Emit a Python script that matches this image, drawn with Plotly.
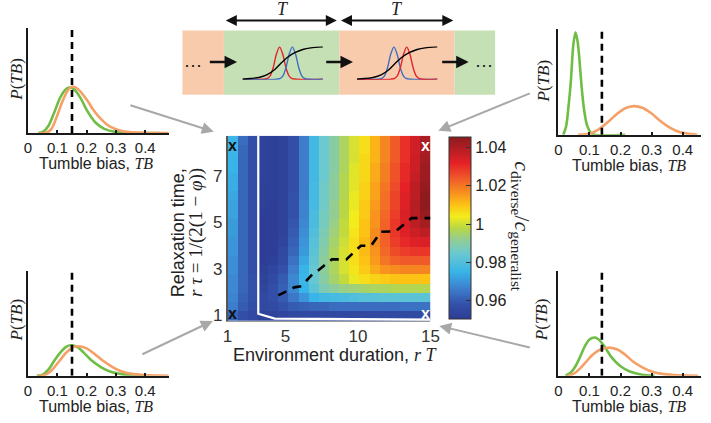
import numpy as np
import plotly.graph_objects as go

W, H = 711, 423
SANS = "Liberation Sans, Arial, sans-serif"
SERIF = "Liberation Serif, Times New Roman, serif"

# ---------------- data ----------------
env_duration = [1.35, 2.05, 2.75, 3.45, 4.15, 4.85, 5.55, 6.25, 6.95, 7.65,
                8.35, 9.05, 9.75, 10.45, 11.15, 11.85, 12.55, 13.25, 13.95, 14.65]
relax_time = [0.95, 1.35, 1.75, 2.15, 2.55, 2.95, 3.35, 3.75, 4.15, 4.55,
              4.95, 5.35, 5.75, 6.15, 6.55, 6.95, 7.35, 7.75, 8.15, 8.55]
# c_diverse / c_generalist, one list per environment duration (bottom -> top in relaxation time)
ratio_by_column = [
    [0.962, 0.966, 0.967, 0.968, 0.968, 0.969, 0.969, 0.970, 0.970, 0.971, 0.971, 0.972, 0.972, 0.973, 0.974, 0.974, 0.975, 0.975, 0.976, 0.976],
    [0.957, 0.960, 0.961, 0.962, 0.962, 0.962, 0.962, 0.962, 0.962, 0.962, 0.962, 0.962, 0.962, 0.962, 0.962, 0.962, 0.962, 0.962, 0.962, 0.963],
    [0.955, 0.957, 0.958, 0.958, 0.958, 0.957, 0.957, 0.957, 0.957, 0.957, 0.957, 0.957, 0.957, 0.957, 0.957, 0.957, 0.957, 0.957, 0.957, 0.957],
    [0.953, 0.955, 0.955, 0.954, 0.953, 0.952, 0.951, 0.951, 0.951, 0.951, 0.951, 0.951, 0.952, 0.952, 0.952, 0.953, 0.953, 0.953, 0.953, 0.953],
    [0.953, 0.956, 0.957, 0.957, 0.956, 0.954, 0.952, 0.951, 0.951, 0.951, 0.951, 0.951, 0.951, 0.952, 0.952, 0.952, 0.952, 0.952, 0.952, 0.952],
    [0.954, 0.958, 0.960, 0.961, 0.960, 0.958, 0.956, 0.955, 0.954, 0.953, 0.953, 0.953, 0.953, 0.953, 0.953, 0.953, 0.953, 0.953, 0.953, 0.953],
    [0.955, 0.960, 0.965, 0.968, 0.968, 0.966, 0.964, 0.962, 0.961, 0.960, 0.959, 0.958, 0.958, 0.958, 0.957, 0.957, 0.957, 0.957, 0.957, 0.957],
    [0.955, 0.961, 0.970, 0.975, 0.976, 0.975, 0.973, 0.971, 0.970, 0.969, 0.968, 0.967, 0.967, 0.966, 0.966, 0.966, 0.966, 0.966, 0.966, 0.966],
    [0.955, 0.962, 0.975, 0.982, 0.984, 0.984, 0.983, 0.982, 0.981, 0.980, 0.979, 0.979, 0.978, 0.978, 0.978, 0.977, 0.977, 0.977, 0.977, 0.977],
    [0.955, 0.962, 0.977, 0.988, 0.990, 0.991, 0.991, 0.990, 0.989, 0.988, 0.987, 0.987, 0.986, 0.986, 0.986, 0.985, 0.985, 0.985, 0.985, 0.985],
    [0.955, 0.963, 0.978, 0.991, 0.995, 0.996, 0.996, 0.996, 0.995, 0.994, 0.993, 0.992, 0.992, 0.991, 0.991, 0.991, 0.990, 0.990, 0.990, 0.990],
    [0.955, 0.963, 0.979, 0.993, 0.999, 1.001, 1.001, 1.001, 1.000, 0.999, 0.999, 0.998, 0.998, 0.997, 0.997, 0.997, 0.996, 0.996, 0.996, 0.996],
    [0.955, 0.963, 0.980, 0.994, 1.003, 1.005, 1.006, 1.006, 1.006, 1.005, 1.004, 1.004, 1.003, 1.003, 1.002, 1.002, 1.002, 1.001, 1.001, 1.001],
    [0.955, 0.963, 0.981, 0.995, 1.006, 1.009, 1.010, 1.011, 1.011, 1.010, 1.010, 1.009, 1.009, 1.008, 1.008, 1.007, 1.007, 1.007, 1.006, 1.006],
    [0.955, 0.963, 0.981, 0.996, 1.008, 1.013, 1.015, 1.016, 1.017, 1.017, 1.016, 1.016, 1.015, 1.014, 1.014, 1.013, 1.013, 1.012, 1.012, 1.012],
    [0.955, 0.963, 0.982, 0.996, 1.009, 1.016, 1.020, 1.022, 1.023, 1.023, 1.023, 1.022, 1.021, 1.021, 1.020, 1.019, 1.019, 1.018, 1.018, 1.018],
    [0.955, 0.963, 0.982, 0.997, 1.010, 1.017, 1.023, 1.026, 1.028, 1.029, 1.029, 1.028, 1.027, 1.027, 1.026, 1.025, 1.025, 1.024, 1.024, 1.024],
    [0.956, 0.964, 0.982, 0.997, 1.010, 1.018, 1.024, 1.028, 1.031, 1.033, 1.034, 1.034, 1.033, 1.033, 1.032, 1.031, 1.031, 1.030, 1.030, 1.030],
    [0.956, 0.964, 0.982, 0.997, 1.010, 1.018, 1.024, 1.029, 1.033, 1.036, 1.038, 1.039, 1.039, 1.038, 1.038, 1.037, 1.036, 1.036, 1.035, 1.035],
    [0.956, 0.964, 0.982, 0.997, 1.010, 1.018, 1.024, 1.029, 1.034, 1.038, 1.042, 1.044, 1.045, 1.045, 1.044, 1.043, 1.043, 1.042, 1.041, 1.041],
]
ratio_min, ratio_max = 0.9503, 1.0457
cbar_ticks = [0.96, 0.98, 1.0, 1.02, 1.04]
cbar_labels = ["0.96", "0.98", "1", "1.02", "1.04"]
heat_xticks = [1, 5, 10, 15]
heat_yticks = [1, 3, 5, 7]

# optimal relaxation time (dashed staircase)
opt_T = [4.5, 5.6, 6.1, 6.9, 7.1, 8.2, 9.2, 10.2, 10.9, 11.6, 12.6, 13.7, 15.0]
opt_tau = [1.85, 2.2, 2.25, 2.8, 2.85, 3.41, 3.41, 4.0, 4.0, 4.6, 4.62, 5.19, 5.19]
# white boundary contour
bound_T = [3.12, 3.12, 4.26, 15.0]
bound_tau = [8.75, 1.06, 0.85, 0.81]
# corner markers
corner_T = [1.35, 1.35, 14.65, 14.65]
corner_tau = [8.33, 1.05, 8.33, 1.05]
corner_col = ["#111111", "#111111", "#ffffff", "#ffffff"]

# tumble-bias distributions (fraction of axis height)
tb_ticks = [0, 0.1, 0.2, 0.3, 0.4]
tb_labels = ["0", "0.1", "0.2", "0.3", "0.4"]
generalist_tb = [0.15, 0.14, 0.15, 0.14]  # TL, TR, BL, BR

tl_green_x = [0.035, 0.05, 0.07, 0.09, 0.11, 0.13, 0.14, 0.155, 0.18, 0.20, 0.23, 0.26, 0.30, 0.35, 0.45]
tl_green_y = [0.0, 0.01, 0.07, 0.2, 0.34, 0.42, 0.434, 0.42, 0.33, 0.22, 0.1, 0.04, 0.01, 0.0, 0.0]
tl_orange_x = [0.035, 0.06, 0.08, 0.10, 0.12, 0.14, 0.153, 0.17, 0.20, 0.223, 0.25, 0.28, 0.32, 0.37, 0.48]
tl_orange_y = [0.0, 0.0, 0.04, 0.17, 0.32, 0.42, 0.443, 0.42, 0.32, 0.22, 0.13, 0.06, 0.02, 0.005, 0.0]

tr_green_x = [0.016, 0.025, 0.033, 0.04, 0.048, 0.055, 0.062, 0.068, 0.074, 0.082, 0.092, 0.104, 0.116, 0.215]
tr_green_y = [0.0, 0.08, 0.28, 0.5, 0.85, 0.97, 0.88, 0.7, 0.48, 0.25, 0.09, 0.02, 0.0, 0.0]
tr_orange_x = [0.063, 0.10, 0.13, 0.165, 0.19, 0.215, 0.242, 0.27, 0.30, 0.326, 0.36, 0.39, 0.42, 0.447]
tr_orange_y = [0.0, 0.01, 0.05, 0.135, 0.2, 0.25, 0.27, 0.255, 0.2, 0.135, 0.065, 0.025, 0.008, 0.0]

bl_green_x = [0.03, 0.05, 0.07, 0.09, 0.11, 0.13, 0.146, 0.17, 0.19, 0.217, 0.25, 0.28, 0.32, 0.36, 0.40]
bl_green_y = [0.0, 0.01, 0.06, 0.145, 0.22, 0.275, 0.29, 0.27, 0.22, 0.145, 0.08, 0.04, 0.015, 0.004, 0.0]
bl_orange_x = [0.035, 0.06, 0.08, 0.107, 0.13, 0.15, 0.17, 0.20, 0.23, 0.257, 0.29, 0.32, 0.36, 0.41, 0.48]
bl_orange_y = [0.0, 0.01, 0.05, 0.14, 0.22, 0.265, 0.28, 0.26, 0.2, 0.14, 0.08, 0.04, 0.015, 0.004, 0.0]

br_green_x = [0.023, 0.04, 0.055, 0.07, 0.085, 0.10, 0.118, 0.135, 0.15, 0.17, 0.20, 0.23, 0.27, 0.31]
br_green_y = [0.0, 0.03, 0.09, 0.18, 0.28, 0.345, 0.364, 0.33, 0.27, 0.18, 0.09, 0.04, 0.01, 0.0]
br_orange_x = [0.03, 0.05, 0.07, 0.09, 0.11, 0.135, 0.16, 0.19, 0.215, 0.24, 0.27, 0.30, 0.34, 0.39, 0.45]
br_orange_y = [0.0, 0.02, 0.07, 0.135, 0.2, 0.25, 0.267, 0.25, 0.2, 0.135, 0.08, 0.04, 0.015, 0.004, 0.0]

# schematic curves (local 0..1 units)
sig_x = [0.0, 0.1, 0.2, 0.3, 0.4, 0.48, 0.56, 0.65, 0.75, 0.85, 1.0]
sig_y = [0.0, 0.02, 0.05, 0.13, 0.3, 0.5, 0.68, 0.82, 0.92, 0.97, 1.0]
peak_y = [0.0, 0.01, 0.09, 0.35, 0.77, 1.0, 0.77, 0.35, 0.09, 0.01, 0.0]
peak_left_x = [0.0, 0.30, 0.34, 0.38, 0.42, 0.46, 0.50, 0.54, 0.58, 0.62, 1.0]
peak_right_x = [0.0, 0.46, 0.50, 0.54, 0.58, 0.62, 0.66, 0.70, 0.74, 0.78, 1.0]

GREEN = "#6fbd45"
ORANGE = "#f5a066"
RED = "#e3242b"
BLUE = "#3f6fc4"
GRAYA = "#a8a8a8"


def px(x):
    return x / W


def py(y):
    return 1 - y / H


colorscale = [
    [0.000, "#2d3c94"], [0.081, "#3351a9"], [0.165, "#3e7dcc"], [0.259, "#37b4e8"],
    [0.364, "#6cc9cf"], [0.437, "#93cd93"], [0.500, "#b9d745"], [0.563, "#f3ec1c"],
    [0.626, "#fcc315"], [0.689, "#f7931e"], [0.773, "#f0592a"], [0.856, "#e52127"],
    [1.000, "#8b1b1f"],
]

fig = go.Figure()

z = np.array(ratio_by_column).T
fig.add_trace(go.Heatmap(
    x=env_duration, y=relax_time, z=z, zmin=ratio_min, zmax=ratio_max,
    colorscale=colorscale, xaxis="x", yaxis="y", hoverinfo="skip",
    colorbar=dict(
        x=px(452.5), xanchor="left", xpad=0, y=py(230), yanchor="middle", ypad=0,
        len=184 / H, lenmode="fraction", thickness=22, thicknessmode="pixels",
        outlinewidth=1, outlinecolor="#333333",
        tickvals=cbar_ticks, ticktext=cbar_labels, ticks="inside", ticklen=5,
        tickwidth=1, tickcolor="#333333",
        tickfont=dict(family=SANS, size=16, color="#222222"),
    ),
))
fig.add_trace(go.Scatter(x=bound_T, y=bound_tau, mode="lines", xaxis="x", yaxis="y",
                         line=dict(color="white", width=2.2), hoverinfo="skip"))
fig.add_trace(go.Scatter(x=opt_T, y=opt_tau, mode="lines", xaxis="x", yaxis="y",
                         line=dict(color="black", width=2.6, dash="9px,7px"), hoverinfo="skip"))

# mini panels
panels = [
    ("2", tl_green_x, tl_green_y, tl_orange_x, tl_orange_y, generalist_tb[0]),
    ("3", tr_green_x, tr_green_y, tr_orange_x, tr_orange_y, generalist_tb[1]),
    ("4", bl_green_x, bl_green_y, bl_orange_x, bl_orange_y, generalist_tb[2]),
    ("5", br_green_x, br_green_y, br_orange_x, br_orange_y, generalist_tb[3]),
]
for k, gx, gy, ox, oy, gen in panels:
    fig.add_trace(go.Scatter(x=gx, y=gy, mode="lines", line=dict(color=GREEN, width=2.6, shape="spline", smoothing=0.8),
                             xaxis="x" + k, yaxis="y" + k, hoverinfo="skip"))
    fig.add_trace(go.Scatter(x=ox, y=oy, mode="lines", line=dict(color=ORANGE, width=2.6, shape="spline", smoothing=0.8),
                             xaxis="x" + k, yaxis="y" + k, hoverinfo="skip"))
    fig.add_trace(go.Scatter(x=[gen, gen], y=[0, 1], mode="lines", line=dict(color="black", width=2.6, dash="7px,5px"),
                             xaxis="x" + k, yaxis="y" + k, hoverinfo="skip"))

# schematic panels
for k, (c1, x1), (c2, x2) in [("6", (RED, peak_left_x), (BLUE, peak_right_x)),
                              ("7", (BLUE, peak_left_x), (RED, peak_right_x))]:
    fig.add_trace(go.Scatter(x=x1, y=peak_y, mode="lines", line=dict(color=c1, width=1.4, shape="spline", smoothing=0.8),
                             xaxis="x" + k, yaxis="y" + k, hoverinfo="skip"))
    fig.add_trace(go.Scatter(x=x2, y=peak_y, mode="lines", line=dict(color=c2, width=1.4, shape="spline", smoothing=0.8),
                             xaxis="x" + k, yaxis="y" + k, hoverinfo="skip"))
    fig.add_trace(go.Scatter(x=sig_x, y=sig_y, mode="lines", line=dict(color="black", width=1.4, shape="spline", smoothing=0.8),
                             xaxis="x" + k, yaxis="y" + k, hoverinfo="skip"))

layout = dict(
    width=W, height=H, margin=dict(l=0, r=0, t=0, b=0),
    paper_bgcolor="white", plot_bgcolor="rgba(0,0,0,0)", showlegend=False,
    xaxis=dict(domain=[px(227), px(434)], range=[1, 15], tickvals=heat_xticks,
               tickfont=dict(family=SANS, size=17, color="#333333"), showgrid=False, zeroline=False,
               showline=True, linecolor="#999999", linewidth=1, ticks="", anchor="y"),
    yaxis=dict(domain=[py(324), py(137)], range=[0.75, 8.75], tickvals=heat_yticks,
               tickfont=dict(family=SANS, size=17, color="#333333"), showgrid=False, zeroline=False,
               showline=True, linecolor="#555555", linewidth=1.5, ticks="", anchor="x"),
)

mini_geom = {
    "2": (23.5, 167.0, 0.48, 28.3, 134.3),
    "3": (564.5, 709.7, 0.458, 29.3, 136.0),
    "4": (23.5, 167.0, 0.48, 273.3, 379.3),
    "5": (564.5, 709.7, 0.458, 273.3, 379.3),
}
for k, (x0, x1, xr, ytop, ybot) in mini_geom.items():
    layout["xaxis" + k] = dict(domain=[px(x0), px(x1)], range=[0, xr], tickvals=tb_ticks, ticktext=tb_labels,
                               ticks="inside", ticklen=3, tickwidth=1.5, tickcolor="#1a1a1a",
                               showline=True, linecolor="#1a1a1a", linewidth=2, showgrid=False, zeroline=False,
                               tickfont=dict(family=SANS, size=15, color="#222222"), anchor="y" + k)
    layout["yaxis" + k] = dict(domain=[py(ybot), py(ytop)], range=[0, 1], showticklabels=False, ticks="",
                               tickvals=[], showline=True, linecolor="#1a1a1a", linewidth=2, showgrid=False,
                               zeroline=False, anchor="x" + k)

schem_geom = {"6": (241.7, 325.0), "7": (358.3, 441.7)}
for k, (x0, x1) in schem_geom.items():
    layout["xaxis" + k] = dict(domain=[px(x0), px(x1)], range=[-0.01, 1.01], showline=False, showgrid=False,
                               zeroline=False, showticklabels=False, ticks="", tickvals=[], anchor="y" + k)
    layout["yaxis" + k] = dict(domain=[py(80.5), py(46.7)], range=[-0.02, 1.02], showline=False, showgrid=False,
                               zeroline=False, showticklabels=False, ticks="", tickvals=[], anchor="x" + k)

fig.update_layout(**layout)

# boxes
shapes = []
for (x0, x1, col) in [(181, 223.3, "#f8cbad"), (223.3, 341, "#c5e0b4"), (341, 458.7, "#f8cbad"), (458.7, 500, "#c5e0b4")]:
    shapes.append(dict(type="rect", xref="paper", yref="paper", x0=px(x0), x1=px(x1), y0=py(95.7), y1=py(30.7),
                       fillcolor=col, line=dict(width=0), layer="below"))
fig.update_layout(shapes=shapes)

ann = []


def arrow(x0, y0, x1, y1, color, width, size=1.0, both=False, head=2):
    d = dict(x=px(x1), y=py(y1), xref="paper", yref="paper", ax=x0 - x1, ay=y0 - y1,
             axref="pixel", ayref="pixel", showarrow=True, arrowhead=head, arrowsize=size,
             arrowwidth=width, arrowcolor=color, text="", standoff=0, startstandoff=0)
    if both:
        d.update(arrowside="end+start", startarrowhead=head, startarrowsize=size)
    return d


def label(x, y, text, size, family=SANS, angle=0, color="#222222", xanchor="center"):
    return dict(x=px(x), y=py(y), xref="paper", yref="paper", text=text, showarrow=False,
                textangle=angle, font=dict(family=family, size=size, color=color),
                xanchor=xanchor, yanchor="middle")


# corner markers on the heatmap
for cx, cy, cc in zip(corner_T, corner_tau, corner_col):
    ann.append(dict(x=cx, y=cy, xref="x", yref="y", text="<b>x</b>", showarrow=False,
                    font=dict(family=SANS, size=16, color=cc), xanchor="center", yanchor="middle"))

# gray connectors
ann.append(arrow(128, 106, 213, 133, GRAYA, 2, 1.2))
ann.append(arrow(535, 94, 442, 132, GRAYA, 2, 1.2))
ann.append(arrow(140, 358, 212, 324, GRAYA, 2, 1.2))
ann.append(arrow(535, 351, 443, 329, GRAYA, 2, 1.2))
# schematic arrows
ann.append(arrow(226, 20.7, 338.5, 20.7, "#111111", 2, 1.1, both=True))
ann.append(arrow(343.5, 20.7, 457.3, 20.7, "#111111", 2, 1.1, both=True))
ann.append(arrow(208, 62.7, 236.7, 62.7, "#111111", 2.5, 1.0))
ann.append(arrow(326.7, 62.7, 355, 62.7, "#111111", 2.5, 1.0))
ann.append(arrow(445, 62.7, 473, 62.7, "#111111", 2.5, 1.0))
ann.append(label(283.3, 9.3, "<i>T</i>", 18, SERIF))
ann.append(label(400, 9.3, "<i>T</i>", 18, SERIF))
ann.append(label(192, 66, "···", 18, SANS, color="#111111"))
ann.append(label(489, 66, "···", 18, SANS, color="#111111"))

# heatmap titles
ann.append(label(336.7, 358, "Environment duration, <span style='font-family:Liberation Serif;font-size:18px'><i>r T</i></span>", 18))
ann.append(label(176, 235, "Relaxation time,", 18, angle=-90))
ann.append(label(195, 235, "<i>r τ</i> = 1/(2(1 − <i>φ</i>))", 19, SERIF, angle=-90))
ann.append(label(527, 229, "<i>c</i><sub>diverse</sub>/<i>c</i><sub>generalist</sub>", 22, SERIF, angle=90))

# mini titles
for (xc, yt) in [(93, 165), (637, 167), (93, 410), (637, 410)]:
    ann.append(label(xc, yt, "Tumble bias, <span style='font-family:Liberation Serif;font-size:16px'><i>TB</i></span>", 16))
for (xc, yc) in [(11.7, 80), (549, 82), (11.7, 323), (548, 323)]:
    ann.append(label(xc, yc, "<i>P</i>(<i>TB</i>)", 17, SERIF, angle=-90))

fig.update_layout(annotations=ann)

fig.write_html("out.html", config={"displayModeBar": False},
               post_script="document.body.style.margin='0';document.body.style.overflow='hidden';")
